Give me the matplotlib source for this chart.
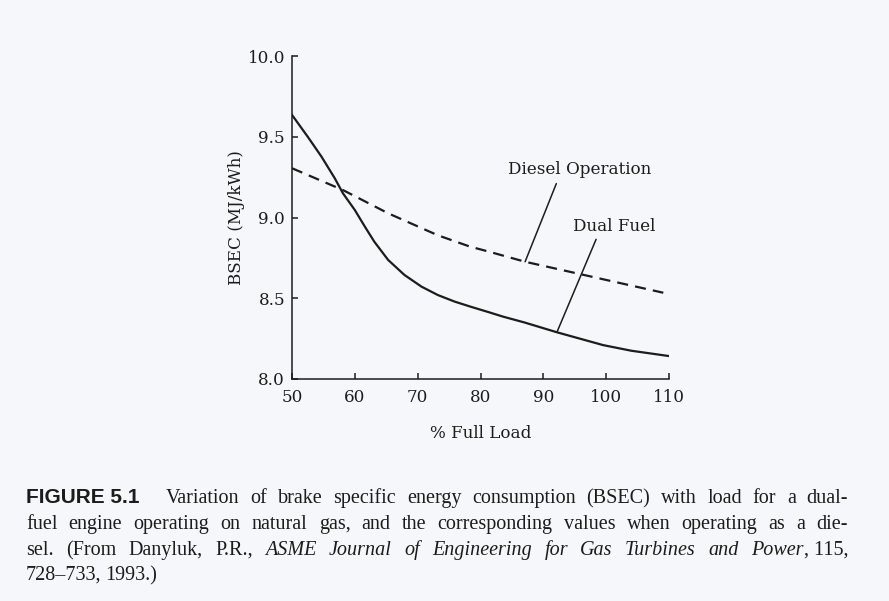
import matplotlib
matplotlib.use('Agg')
import matplotlib.pyplot as plt

# ---- data ----
dual_load = [50, 52.5, 54.7, 56.8, 58.1, 60, 61.6, 63.1, 65.3, 67.9, 70.6, 73.2, 75.9,
             78.4, 81.2, 83.6, 87, 92.1, 95.8, 99.5, 104, 110]
dual_bsec = [9.635, 9.50, 9.376, 9.243, 9.15, 9.046, 8.943, 8.85, 8.737, 8.644, 8.572, 8.52,
             8.479, 8.448, 8.415, 8.386, 8.35, 8.29, 8.25, 8.21, 8.175, 8.142]

diesel_load = [50, 58.1, 65.3, 73.2, 78.3, 81.2, 87.1, 95.8, 109.1]
diesel_bsec = [9.305, 9.17, 9.026, 8.89, 8.82, 8.79, 8.726, 8.65, 8.534]

x_ticks = [50, 60, 70, 80, 90, 100, 110]
y_ticks = [8.0, 8.5, 9.0, 9.5, 10.0]

INK = '#1c1c1c'
PAPER = '#f6f7fb'
SERIF = ['DejaVu Serif']
CAP_SERIF = ['Liberation Serif', 'DejaVu Serif']
FS = 12.1

fig = plt.figure(figsize=(8.89, 6.01), dpi=100)
fig.patch.set_facecolor(PAPER)
ax = fig.add_axes([0.3285, 0.3694, 0.4240, 0.5374])
ax.set_facecolor(PAPER)

ax.plot(dual_load, dual_bsec, color=INK, lw=1.6, solid_joinstyle='round')
ax.plot(diesel_load, diesel_bsec, color=INK, lw=1.6, dashes=(5, 3.2))

ax.set_xlim(50, 110)
ax.set_ylim(8.0, 10.0)
ax.set_xticks(x_ticks)
ax.set_xticklabels([str(v) for v in x_ticks])
ax.set_yticks(y_ticks)
ax.set_yticklabels([f'{v:.1f}' for v in y_ticks])
for s in ('top', 'right'):
    ax.spines[s].set_visible(False)
for s in ('left', 'bottom'):
    ax.spines[s].set_linewidth(1.1)
    ax.spines[s].set_color(INK)
ax.tick_params(direction='in', length=4, width=1.1, color=INK,
               labelsize=FS, labelcolor=INK)
ax.tick_params(axis='x', pad=7)
ax.tick_params(axis='y', pad=5)
for lab in ax.get_xticklabels() + ax.get_yticklabels():
    lab.set_family(SERIF)

ax.set_xlabel('% Full Load', fontsize=FS, family=SERIF, color=INK, labelpad=14)
ax.set_ylabel('BSEC (MJ/kWh)', fontsize=FS, family=SERIF, color=INK, labelpad=2)

# curve labels with leader lines
ax.text(95.8, 9.30, 'Diesel Operation', fontsize=FS, family=SERIF, color=INK,
        ha='center', va='center')
ax.annotate('', xy=(87.1, 8.726), xytext=(92.07, 9.21),
            arrowprops=dict(arrowstyle='-', color=INK, lw=1.1, shrinkA=0, shrinkB=0))
ax.text(101.35, 8.946, 'Dual Fuel', fontsize=FS, family=SERIF, color=INK,
        ha='center', va='center')
ax.annotate('', xy=(92.2, 8.293), xytext=(98.4, 8.865),
            arrowprops=dict(arrowstyle='-', color=INK, lw=1.1, shrinkA=0, shrinkB=0))

# ---- caption, justified like the book ----
W, H = fig.bbox.width, fig.bbox.height
renderer = fig.canvas.get_renderer()
CAP = dict(fontsize=14.5, family=CAP_SERIF, color=INK, va='baseline')
LAB = dict(fontsize=15, family=['Liberation Sans Narrow', 'Liberation Sans', 'DejaVu Sans'],
           weight='bold', color=INK, va='baseline')
ITA = dict(CAP, style='italic')

caption = [
    [('FIGURE 5.1', LAB, 16)] + [(w, CAP, 0) for w in
        'Variation of brake specific energy consumption (BSEC) with load for a dual-'.split()],
    [(w, CAP, 0) for w in
        'fuel engine operating on natural gas, and the corresponding values when operating as a die-'.split()],
    [(w, CAP, 0) for w in 'sel. (From Danyluk, P.R.,'.split()]
    + [(w, ITA, 0) for w in 'ASME Journal of Engineering for Gas Turbines and'.split()]
    + [('Power', ITA, 0), (', 115,', CAP, -1)],
    [(w, CAP, 0) for w in '728–733, 1993.)'.split()],
]
baselines = [503, 529, 555, 580]
x_left, x_right = 26, 848

for i, (line, yb) in enumerate(zip(caption, baselines)):
    items = []
    for word, kw, extra in line:
        t = fig.text(0, 1 - yb / H, word, **kw)
        w = t.get_window_extent(renderer).width
        items.append((t, w, extra))
    # negative extra: glued to the previous word (", 115,")
    n_gaps = sum(1 for _, _, e in items[1:] if e >= 0)
    total = sum(w for _, w, _ in items) + sum(e for _, _, e in items if e > 0)
    last = i == len(caption) - 1
    gap = 4.0 if last else (x_right - x_left - total) / max(n_gaps, 1)
    x = x_left
    for k, (t, w, extra) in enumerate(items):
        if k > 0:
            x += 0 if extra < 0 else gap
        t.set_x(x / W)
        x += w + (extra if extra > 0 else 0)

fig.savefig('out.png', dpi=100, facecolor=PAPER)
